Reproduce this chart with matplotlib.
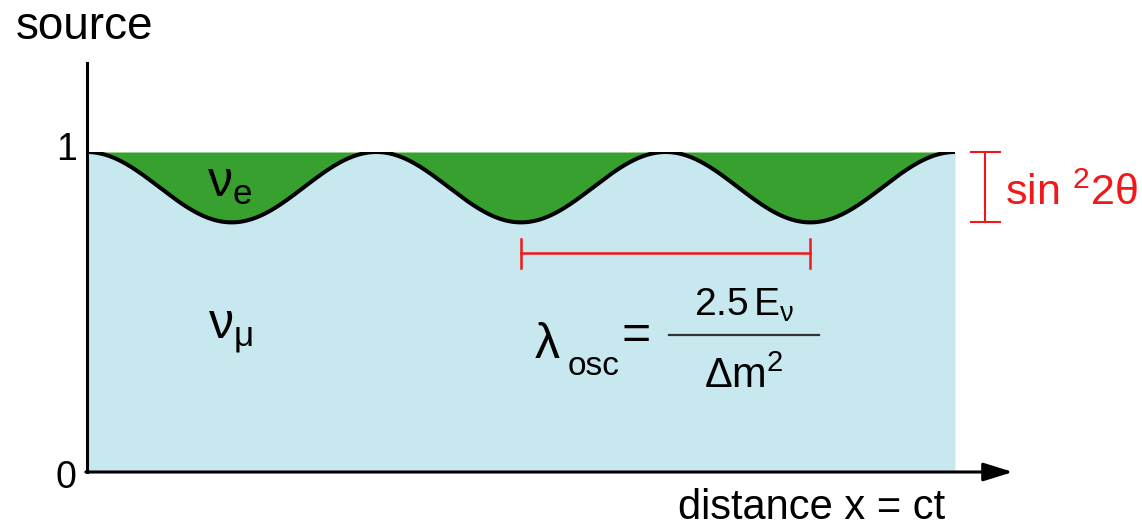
import numpy as np
import matplotlib
matplotlib.use("Agg")
import matplotlib.pyplot as plt

plt.rcParams['font.family'] = ['Liberation Sans', 'DejaVu Sans']
plt.rcParams['mathtext.fontset'] = 'custom'
plt.rcParams['mathtext.rm'] = 'Liberation Sans'
plt.rcParams['mathtext.it'] = 'Liberation Sans'
plt.rcParams['mathtext.bf'] = 'Liberation Sans:bold'

# oscillation parameters (distance in units of the oscillation length)
sin2_2theta = 0.22
osc_length = 1.0
n_periods = 3
y_ticks = [0, 1]
y_ticklabels = ["0", "1"]

green = "#37a02f"
light_blue = "#c8e8f0"
red = "#f01818"

fig = plt.figure(figsize=(11.42, 5.27), dpi=100)
ax = fig.add_axes([87/1142, 55/527, (955-87)/1142, 320/527])
ax.set_xlim(0, n_periods*osc_length)
ax.set_ylim(0, 1)
ax.axis("off")

x = np.linspace(0, n_periods*osc_length, 800)
p_mumu = 1 - sin2_2theta*np.sin(np.pi*x/osc_length)**2

ax.fill_between(x, 0, p_mumu, color=light_blue, lw=0)
ax.fill_between(x, p_mumu, 1, color=green, lw=0)
ax.plot(x, p_mumu, color="black", lw=2.9, solid_capstyle="round")

# axes drawn by hand
ax.plot([0, 0], [0, 1.278], color="black", lw=2.2, clip_on=False)
ax.annotate("", xy=(3.20, 0), xytext=(-0.004, 0),
            arrowprops=dict(arrowstyle="-|>,head_length=0.9,head_width=0.28",
                            lw=2.2, color="black", shrinkA=0, shrinkB=0,
                            mutation_scale=20),
            annotation_clip=False)
for t, lab in zip(y_ticks, y_ticklabels):
    ax.text(-0.036, t + 0.006 - 0.025*(t == 0), lab, ha="right", va="center",
            fontsize=27, clip_on=False)
ax.text(-0.248, 1.39, "source", ha="left", va="center", fontsize=33)
ax.text(2.043, -0.112, "distance x = ct", ha="left", va="center", fontsize=30)

# flavour labels
ax.text(0.415, 0.859, r"$\nu_{\rm e}$", ha="left", va="baseline", fontsize=36)
ax.text(0.418, 0.419, r"$\nu_{\mu}$", ha="left", va="baseline", fontsize=36)

# oscillation length bar (minimum to minimum)
bar_y = 0.684
x_min1, x_min2 = 1.5*osc_length, 2.5*osc_length
ax.plot([x_min1, x_min2], [bar_y, bar_y], color=red, lw=1.8)
for xm in (x_min1, x_min2):
    ax.plot([xm, xm], [bar_y - 0.045, bar_y + 0.045], color=red, lw=1.8)

# lambda_osc = 2.5 E / dm^2
ax.text(1.545, 0.356, r"$\lambda$", ha="left", va="baseline", fontsize=36)
ax.text(1.662, 0.303, "osc", ha="left", va="baseline", fontsize=24)
ax.text(1.898, 0.425, "=", ha="center", va="center", fontsize=36)
ax.plot([2.01, 2.53], [0.428, 0.428], color="#333333", lw=1.6)
ax.text(2.27, 0.4875, r"$2.5\,\mathrm{E}_{\nu}$", ha="center", va="baseline", fontsize=28)
ax.text(2.27, 0.2625, r"$\Delta\mathrm{m}^{2}$", ha="center", va="baseline", fontsize=30)

# amplitude bar
amp_x = 3.104
ax.plot([amp_x, amp_x], [1 - sin2_2theta, 1], color=red, lw=1.5, clip_on=False)
for yy in (1 - sin2_2theta, 1):
    ax.plot([amp_x - 0.05, amp_x + 0.05], [yy, yy], color=red, lw=1.5, clip_on=False)
ax.text(3.173, 0.834, r"$\mathrm{sin}\ ^{2}2\theta$", ha="left", va="baseline",
        fontsize=31, color=red, clip_on=False)

fig.savefig("out.png", dpi=100)
